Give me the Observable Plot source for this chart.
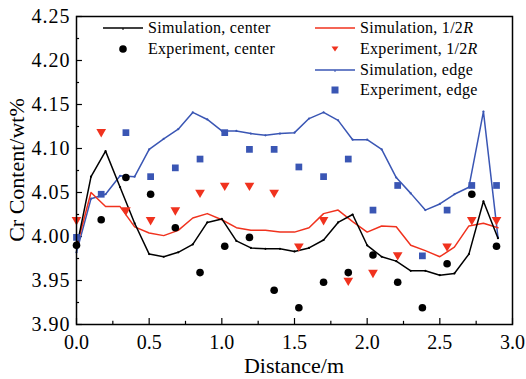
<!DOCTYPE html>
<html><head><meta charset="utf-8">
<script src="https://cdn.jsdelivr.net/npm/d3@7"></script>
<script src="https://cdn.jsdelivr.net/npm/@observablehq/plot@0.6"></script>
<style>
body{margin:0;background:#fff;}
#wrap{position:relative;width:526px;height:379px;font-family:"Liberation Serif","Times New Roman",serif;color:#000;}
.leg{position:absolute;display:flex;align-items:center;font-size:16px;white-space:nowrap;height:20px;letter-spacing:0.3px;}
.leg svg{margin-right:5px;}
.title{position:absolute;font-size:22px;white-space:nowrap;}
</style></head><body><div id="wrap"></div>
<script>
// Simulation positions (m)
const simX = [0,0.1,0.2,0.3,0.4,0.5,0.6,0.7,0.8,0.9,1.0,1.1,1.2,1.3,1.4,1.5,1.6,1.7,1.8,1.9,2.0,2.1,2.2,2.3,2.4,2.5,2.6,2.7,2.8,2.9];
const simCenter = [3.987,4.068,4.097,4.056,4.015,3.980,3.977,3.982,3.991,4.016,4.020,3.995,3.987,3.986,3.986,3.983,3.987,3.996,4.016,4.025,3.990,3.977,3.972,3.961,3.961,3.956,3.958,3.980,4.040,3.998];
const simHalf   = [3.988,4.050,4.034,4.034,4.011,4.004,4.001,4.007,4.021,4.026,4.019,4.010,4.007,4.007,4.005,4.005,4.010,4.026,4.030,4.017,4.005,4.012,4.011,3.990,3.984,3.977,3.988,4.012,4.015,4.010];
const simEdge   = [3.982,4.043,4.048,4.069,4.068,4.099,4.111,4.122,4.141,4.133,4.120,4.120,4.117,4.115,4.117,4.118,4.134,4.141,4.132,4.110,4.110,4.099,4.067,4.049,4.030,4.037,4.048,4.056,4.142,3.999];
// Experiment positions (m)
const expX = [0,0.17,0.34,0.51,0.68,0.85,1.02,1.19,1.36,1.53,1.70,1.87,2.04,2.21,2.38,2.55,2.72,2.89];
const expCenter = [3.990,4.019,4.067,4.048,4.010,3.959,3.989,3.999,3.939,3.919,3.948,3.959,3.979,3.948,3.919,3.969,4.048,3.989];
const expHalf   = [4.019,4.119,4.030,4.019,4.030,4.050,4.058,4.058,4.050,3.989,4.019,3.950,3.959,3.979,null,3.989,4.019,4.019];
const expEdge   = [3.999,4.048,4.118,4.068,4.078,4.088,4.118,4.099,4.099,4.079,4.068,4.088,4.030,4.058,3.978,4.030,4.058,4.058];

const xTicks = [0,0.5,1.0,1.5,2.0,2.5,3.0];
const xMinor = [0.25,0.75,1.25,1.75,2.25,2.75];
const yTicks = [3.90,3.95,4.00,4.05,4.10,4.15,4.20,4.25];
const yMinor = [3.925,3.975,4.025,4.075,4.125,4.175,4.225];

const BLACK = "#000000", RED = "#f0321e", BLUE = "#3a56b4";
const SERIF = '"Liberation Serif", "Times New Roman", serif';

const series = (xs, ys) => xs.map((x,i)=>({x, y: ys[i]})).filter(d => d.y != null);
const sC = series(simX, simCenter), sH = series(simX, simHalf), sE = series(simX, simEdge);
const eC = series(expX, expCenter), eH = series(expX, expHalf), eE = series(expX, expEdge);

const chart = Plot.plot({
  width: 526, height: 379,
  marginLeft: 76, marginRight: 14, marginTop: 16, marginBottom: 55,
  style: {fontFamily: SERIF, fontSize: "20px", color: "#000", background: "#fff"},
  x: {domain: [0, 3]},
  y: {domain: [3.9, 4.25]},
  marks: [
    Plot.axisX({ticks: xTicks, tickSize: 0, tickPadding: 10, tickFormat: d => d.toFixed(1), label: null, fontSize: 20}),
    Plot.axisY({ticks: yTicks, tickSize: 0, tickPadding: 6, tickFormat: d => d.toFixed(2), label: null, fontSize: 20, className: "yax"}),
    Plot.ruleX(xTicks, {x: d => d, y1: 3.9, y2: 3.9 + 0.0068, stroke: "#000", strokeWidth: 1.2}),
    Plot.ruleX(xMinor, {x: d => d, y1: 3.9, y2: 3.9 + 0.0036, stroke: "#000", strokeWidth: 1.2}),
    Plot.ruleY(yTicks, {y: d => d, x1: 0, x2: 0.041, stroke: "#000", strokeWidth: 1.2}),
    Plot.ruleY(yMinor, {y: d => d, x1: 0, x2: 0.021, stroke: "#000", strokeWidth: 1.2}),
    Plot.line(sE, {x: "x", y: "y", stroke: BLUE, strokeWidth: 1.5}),
    Plot.dot(sE, {x: "x", y: "y", r: 1.1, fill: BLUE}),
    Plot.line(sH, {x: "x", y: "y", stroke: RED, strokeWidth: 1.5}),
    Plot.line(sC, {x: "x", y: "y", stroke: BLACK, strokeWidth: 1.5}),
    Plot.dot(sC, {x: "x", y: "y", r: 1.1, fill: BLACK}),
    Plot.dot(eC, {x: "x", y: "y", r: 3.8, fill: BLACK, stroke: "none"}),
    Plot.dot(eH, {x: "x", y: "y", symbol: "triangle", rotate: 180, r: 3.6, fill: RED, stroke: "none"}),
    Plot.dot(eE, {x: "x", y: "y", symbol: "square", r: 3.8, fill: BLUE, stroke: "none"}),
    Plot.frame({stroke: "#000", strokeWidth: 1.5})
  ]
});
// force serif font on every text of the chart
chart.setAttribute("font-family", SERIF);
chart.style.setProperty("font-family", SERIF, "important");
chart.querySelectorAll("g, text, tspan").forEach(el => {
  el.setAttribute("font-family", SERIF);
  el.style.setProperty("font-family", SERIF, "important");
});
chart.querySelectorAll(".yax text, g[aria-label='y-axis tick label'] text").forEach(el => {
  el.style.setProperty("letter-spacing", "1px");
});
const wrap = document.getElementById("wrap");
wrap.appendChild(chart);

function sample(kind, color) {
  let inner = "";
  if (kind === "line") inner = `<line x1="0" y1="6" x2="40" y2="6" stroke="${color}" stroke-width="1.5"/>`;
  if (kind === "linetick") inner = `<line x1="0" y1="6" x2="40" y2="6" stroke="${color}" stroke-width="1.5"/><line x1="20" y1="6" x2="20" y2="8" stroke="${color}" stroke-width="1"/>`;
  if (kind === "dot") inner = `<circle cx="20" cy="6" r="3.8" fill="${color}"/>`;
  if (kind === "tri") inner = `<path d="M16.5,3.5 L23.5,3.5 L20,8.5 Z" fill="${color}"/>`;
  if (kind === "sq") inner = `<rect x="16.5" y="2.5" width="7" height="7" fill="${color}"/>`;
  return `<svg width="40" height="12">${inner}</svg>`;
}
const legendItems = [
  {left: 103, top: 28, kind: "linetick", color: BLACK, text: "Simulation, center"},
  {left: 103, top: 49, kind: "dot", color: BLACK, text: "Experiment, center"},
  {left: 315, top: 28, kind: "line", color: RED, text: "Simulation, 1/2<i>R</i>"},
  {left: 315, top: 49, kind: "tri", color: RED, text: "Experiment, 1/2<i>R</i>"},
  {left: 315, top: 70, kind: "linetick", color: BLUE, text: "Simulation, edge"},
  {left: 315, top: 90, kind: "sq", color: BLUE, text: "Experiment, edge"}
];
for (const it of legendItems) {
  const d = document.createElement("div");
  d.className = "leg";
  d.style.left = it.left + "px";
  d.style.top = (it.top - 10) + "px";
  d.innerHTML = sample(it.kind, it.color) + `<span>${it.text}</span>`;
  wrap.appendChild(d);
}
const xt = document.createElement("div");
xt.className = "title";
xt.textContent = "Distance/m";
xt.style.left = "294px"; xt.style.top = "353px"; xt.style.transform = "translate(-50%,0)";
wrap.appendChild(xt);
const yt = document.createElement("div");
yt.className = "title";
yt.textContent = "Cr Content/wt%";
yt.style.left = "17px"; yt.style.top = "170px"; yt.style.transform = "translate(-50%,-50%) rotate(-90deg)";
wrap.appendChild(yt);
</script></body></html>
